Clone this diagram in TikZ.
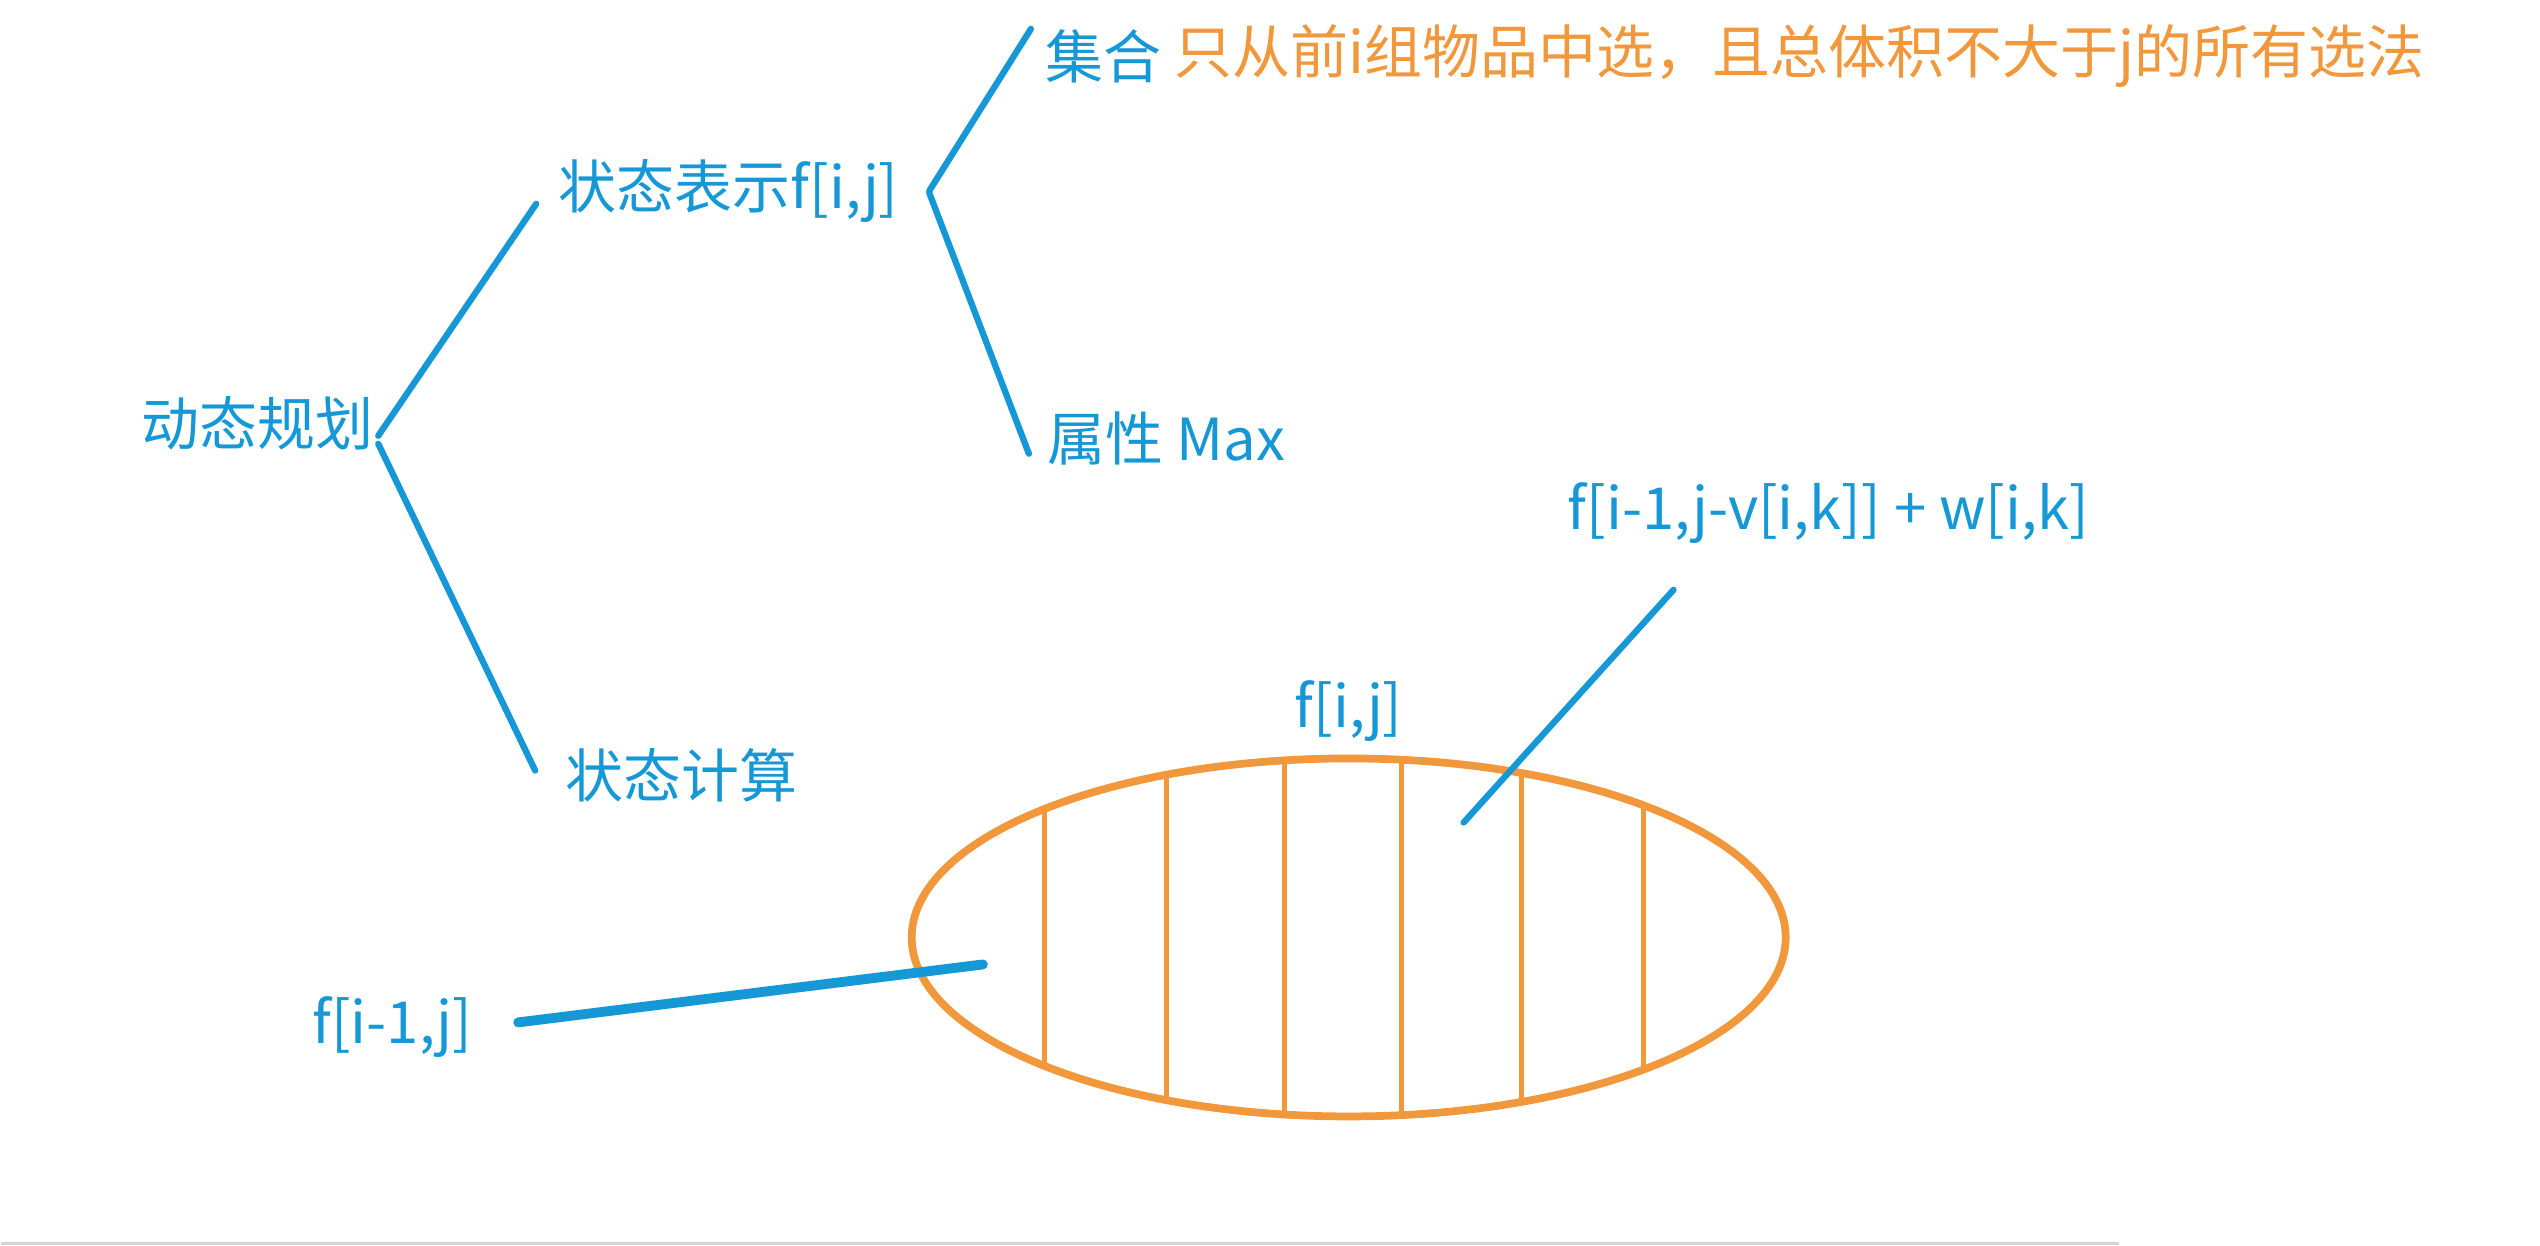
\documentclass[tikz,border=0pt]{standalone}
\usepackage{fontspec}
\setmainfont{Noto Sans CJK SC}
\usetikzlibrary{positioning, shapes.geometric}
\definecolor{inkblue}{RGB}{22,152,214}
\definecolor{inkorange}{RGB}{242,152,60}

\begin{document}
\begin{tikzpicture}[
  x=0.01cm, y=-0.01cm,
  every node/.style = {inner sep=0pt, font=\fontsize{16.5pt}{20pt}\selectfont},
  lbl/.style = {text=inkblue},
  note/.style = {text=inkorange},
  branch/.style = {draw=inkblue, line width=1.8pt, line cap=round},
  pointer/.style = {draw=inkblue, line width=2.8pt, line cap=round},
  pool/.style = {ellipse, draw=inkorange, line width=2.2pt, minimum width=8.74cm, minimum height=3.58cm},
  stripe/.style = {draw=inkorange, line width=1.4pt}
]

% Page
\path[fill=white] (0,0) rectangle (2540,1246);

% Tree
\node[lbl, anchor=east] (dp) at (373,424) {动态规划};
\node[lbl, anchor=west] (rep) at (557,191) {状态表示f[i,j]};
\node[lbl, anchor=west] (calc) at (564,776) {状态计算};
\node[lbl, anchor=west] (set) at (1044,56) {集合};
\node[note, right=0.12cm of set] (desc) {只从前i组物品中选，且总体积不大于j的所有选法};
\node[lbl, anchor=west] (attr) at (1046,439) {属性 Max};

\draw[branch] ([shift={(4,12)}]dp.east) -- ([shift={(-22,13)}]rep.west);
\draw[branch] ([shift={(4,20)}]dp.east) -- ([shift={(-30,-5)}]calc.west);
\draw[branch] ([shift={(30,0)}]rep.east) -- ([shift={(-14,-27)}]set.west);
\draw[branch] ([shift={(30,2)}]rep.east) -- ([shift={(-18,15)}]attr.west);

% The set f[i,j]
\node[pool] (whole) at (1348,938) {};
\begin{scope}
  \clip (whole.center) ellipse [x radius=4.37cm, y radius=1.79cm];
  \foreach \x in {1044,1166,1284,1401,1521,1643}
    \draw[stripe] (\x,740) -- (\x,1140);
\end{scope}
\node[lbl, above=0.12cm of whole] (top) {f[i,j]};

% Pointers into the set
\node[lbl, anchor=east] (prev) at (472,1028) {f[i-1,j]};
\node[lbl] (pick) at (1828,513) {f[i-1,j-v[i,k]] + w[i,k]};
\coordinate (lhit) at (982,965);
\coordinate (rhit) at (1463,823);
\draw[pointer] ([shift={(45,-5)}]prev.east) -- (lhit);
\draw[branch] ([shift={(-155,46)}]pick.south) -- (rhit);

% Bottom rule
\draw[gray!35, line width=0.85pt] (0,1244) -- (2119,1244);

\end{tikzpicture}
\end{document}
